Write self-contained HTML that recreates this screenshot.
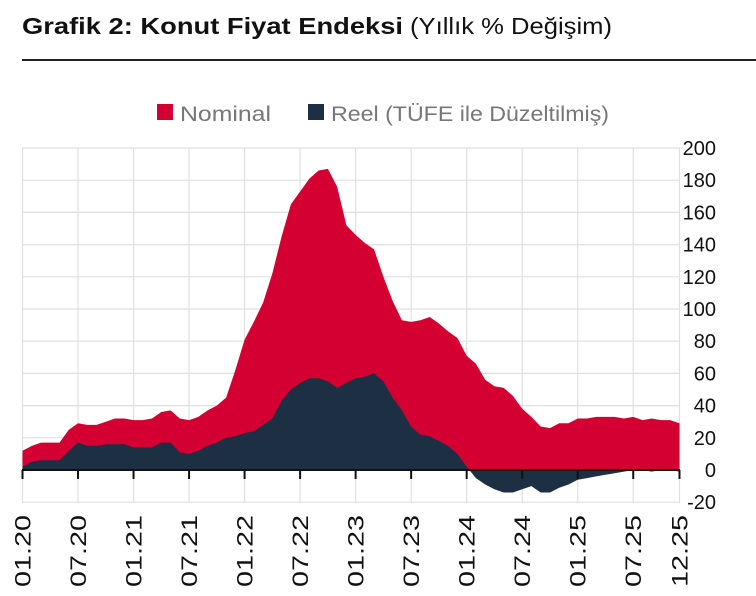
<!DOCTYPE html>
<html><head><meta charset="utf-8"><style>
body{margin:0;background:#fff;width:756px;height:591px;overflow:hidden;font-family:"Liberation Sans",sans-serif}
</style></head><body>
<svg id="s" width="756" height="591" xmlns="http://www.w3.org/2000/svg" font-family="Liberation Sans, sans-serif">
<text x="22" y="34" font-size="23" fill="#111" font-weight="bold" textLength="381" lengthAdjust="spacingAndGlyphs">Grafik 2: Konut Fiyat Endeksi</text>
<text x="410" y="34" font-size="23" fill="#111" textLength="202" lengthAdjust="spacingAndGlyphs">(Yıllık % Değişim)</text>
<line x1="22" y1="60" x2="756" y2="60" stroke="#222" stroke-width="2"/>
<rect x="157" y="104" width="16" height="16" fill="#d50032"/>
<text x="180" y="121" font-size="21" fill="#777" textLength="91" lengthAdjust="spacingAndGlyphs">Nominal</text>
<rect x="308" y="104" width="16" height="16" fill="#1d2f42"/>
<text x="331" y="121" font-size="21" fill="#777" textLength="278" lengthAdjust="spacingAndGlyphs">Reel (TÜFE ile Düzeltilmiş)</text>
<g id="g"></g>
</svg>
<script>
var nom=[12,15,17,17,17,25,29,28,28,30,32,32,31,31,32,36,37,32,31,33,37,40,45,62,81,92,104,122,145,165,173,181,186,187,176,152,146,141,137,120,105,93,92,93,95,91,86,82,71,66,56,52,51,46,38,33,27,26,29,29,32,32,33,33,33,32,33,31,32,31,31,29];
var re=[2,5,6,6,6,12,17,15,15,16,16,16,14,14,14,17,17,11,10,12,15,17,20,21,23,24,28,32,43,50,54,57,57,55,51,54,57,58,60,55,45,37,27,22,21,18,15,10,2,-5,-9,-12,-14,-14,-12,-10,-14,-14,-11,-9,-6,-5,-4,-3,-2,-1,0,0,-1,0,0,-1];
var x0=22.5,dx=(679.5-22.5)/71,y0=470,k=1.61;
function X(i){return x0+i*dx}function Y(v){return y0-v*k}
var h='';
for(var v=-20;v<=200;v+=20){h+='<line x1="22" x2="680" y1="'+Y(v)+'" y2="'+Y(v)+'" stroke="#e0e0e0" stroke-width="1.2"/>';
h+='<text x="716" y="'+(Y(v)+7)+'" font-size="20" fill="#111" text-anchor="end">'+v+'</text>';}
var labs=['01.20','07.20','01.21','07.21','01.22','07.22','01.23','07.23','01.24','07.24','01.25','07.25','12.25'];
for(var j=0;j<13;j++){var i=j<12?j*6:71,x=X(i);
h+='<line x1="'+x+'" x2="'+x+'" y1="148" y2="503" stroke="#e0e0e0" stroke-width="1.2"/>';}
function area(a,c){var p='M'+X(0)+','+Y(0);for(var i=0;i<a.length;i++)p+=' L'+X(i).toFixed(1)+','+Y(a[i]).toFixed(1);p+=' L'+X(71)+','+Y(0)+'Z';return '<path d="'+p+'" fill="'+c+'"/>';}
h+=area(nom,'#d50032')+area(re,'#1d2f42');
h+='<line x1="22" x2="680" y1="470" y2="470" stroke="#111" stroke-width="2"/>';
for(var j=0;j<13;j++){var i=j<12?j*6:71,x=X(i);
h+='<line x1="'+x+'" x2="'+x+'" y1="470" y2="479" stroke="#111" stroke-width="2"/>';
h+='<text transform="translate('+(x+8)+',515) rotate(-90)" font-size="22" fill="#111" text-anchor="end" textLength="72" lengthAdjust="spacingAndGlyphs">'+labs[j]+'</text>';}
document.getElementById('g').innerHTML=h;
</script>
</body></html>
